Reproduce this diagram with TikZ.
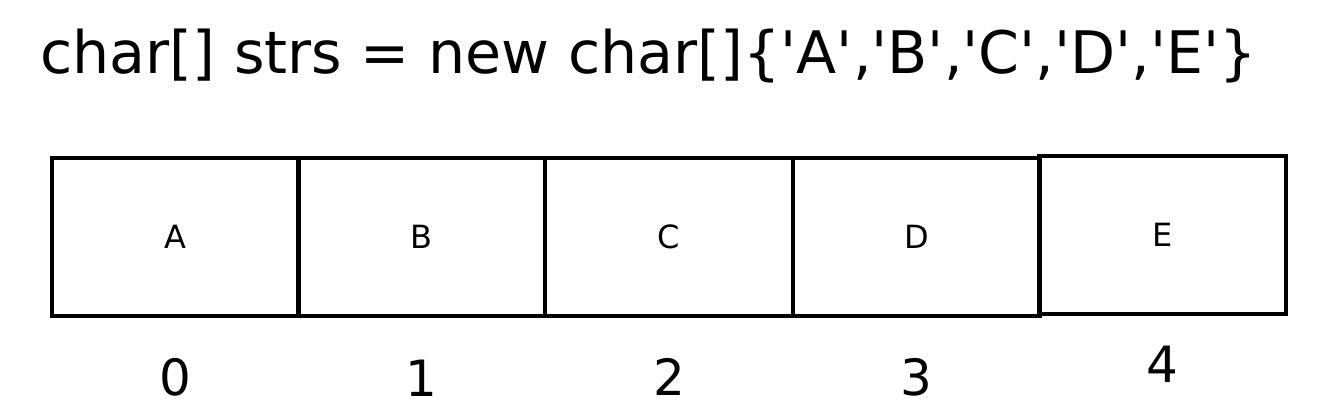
\documentclass[tikz,border=0pt]{standalone}
\usepackage{fontspec}
\setmainfont{DejaVu Sans}
\newfontfamily\codefont{DejaVu Sans}
\usetikzlibrary{positioning}

\tikzset{
    cell/.style={draw, line width=1.8pt, minimum width=123.5pt, minimum height=79pt, inner sep=0pt, font=\fontsize{16}{20}\selectfont},
    idx/.style={inner sep=0pt, font=\fontsize{25}{30}\selectfont},
}

\begin{document}
\begin{tikzpicture}[x=0.5pt, y=-0.5pt]
    \useasboundingbox (0,0) rectangle (1326,410);
    \node[anchor=west, inner sep=0pt, font=\codefont\fontsize{29.3}{36}\selectfont] (code) at (40,56) {char[] strs = new char[]\{'A','B','C','D','E'\}};
    % array cells
    \node[cell] (c0) at (175.5,237) {A};
    \node[cell] (c1) at (421,237) {B};
    \node[cell] (c2) at (669,237) {C};
    \node[cell] (c3) at (916.5,237) {D};
    \node[cell] (c4) at (1162.5,235) {E};
    % indices
    \node[idx, below=20pt of c0] (i0) {0};
    \node[idx, below=21pt of c1] (i1) {1};
    \node[idx, below=20pt of c2] (i2) {2};
    \node[idx, below=20pt of c3] (i3) {3};
    \node[idx, below=15pt of c4] (i4) {4};
\end{tikzpicture}
\end{document}
